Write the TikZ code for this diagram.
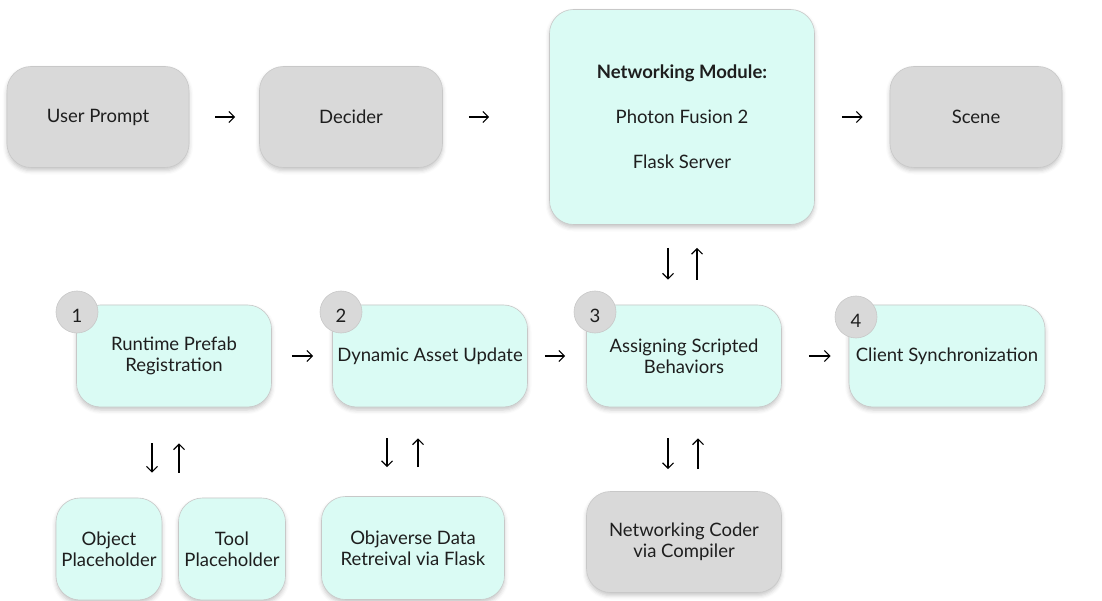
\documentclass[tikz,border=0pt]{standalone}
\usepackage{fontspec}
\setmainfont{Lato}
\usetikzlibrary{arrows.meta,shadows.blur}

\definecolor{boxgray}{RGB}{217,217,217}
\definecolor{boxcyan}{RGB}{218,251,244}
\definecolor{edgegray}{RGB}{200,200,200}
\definecolor{textgray}{RGB}{30,30,30}

\tikzset{
  block/.style={rounded corners=24pt, draw=edgegray, line width=0.6pt,
    align=center, text=textgray, inner sep=0pt,
    font=\fontsize{18.5}{21}\selectfont,
    blur shadow={shadow xshift=0pt, shadow yshift=-3pt,
      shadow opacity=22, shadow blur radius=4pt}},
  graybox/.style={block, fill=boxgray},
  cyanbox/.style={block, fill=boxcyan},
  badge/.style={circle, fill=boxgray, draw=edgegray, line width=0.6pt,
    minimum size=42pt, inner sep=0pt},
  badgenum/.style={text=textgray, font=\fontsize{18.5}{21}\selectfont},
  flow/.style={-{Straight Barb[length=5.5pt,width=11pt]}, line width=1.2pt},
}

\begin{document}
\begin{tikzpicture}[x=1pt,y=-1pt]
\useasboundingbox (0,0) rectangle (1102,601);

% top row
\node[graybox, minimum width=182, minimum height=101] (prompt) at (98,117) {User Prompt};
\node[graybox, minimum width=183, minimum height=101] (decider) at (351,117) {Decider};
\node[cyanbox, minimum width=265, minimum height=215] (netmod) at (682,117)
  {\textbf{Networking Module:}\\[24pt]Photon Fusion 2\\[24pt]Flask Server};
\node[graybox, minimum width=172, minimum height=101] (scene) at (976,117) {Scene};

% middle row
\node[cyanbox, minimum width=195, minimum height=102] (prefab) at (174,356) {Runtime Prefab\\Registration};
\node[cyanbox, minimum width=195, minimum height=102] (asset) at (430,356) {Dynamic Asset Update};
\node[cyanbox, minimum width=195, minimum height=102] (script) at (684,356) {Assigning Scripted\\Behaviors};
\node[cyanbox, minimum width=196, minimum height=102] (sync) at (947,356) {Client Synchronization};

% bottom row
\node[cyanbox, minimum width=106, minimum height=102] (objph) at (109,549) {Object\\Placeholder};
\node[cyanbox, minimum width=107, minimum height=102] (toolph) at (232,549) {Tool\\Placeholder};
\node[cyanbox, minimum width=183, minimum height=103] (objaverse) at (413,548) {Objaverse Data\\Retreival via Flask};
\node[graybox, minimum width=195, minimum height=101] (coder) at (684,542) {Networking Coder\\via Compiler};

% step badges
\foreach \n/\x/\y in {1/77/312, 2/341/312, 3/595/312, 4/856/317}
{
  \node[badge] (badge\n) at (\x,\y) {};
  \node[badgenum] at ([yshift=-4pt]badge\n.center) {\n};
}

% horizontal arrows
\draw[flow, shorten <=26pt, shorten >=24pt] (prompt.east) -- (decider.west);
\draw[flow, shorten <=26pt, shorten >=60pt] (decider.east) -- (netmod.west);
\draw[flow, shorten <=27pt, shorten >=27pt] (netmod.east) -- (scene.west);
\draw[flow, shorten <=20pt, shorten >=19pt] (prefab.east) -- (asset.west);
\draw[flow, shorten <=17pt, shorten >=21pt] (asset.east) -- (script.west);
\draw[flow, shorten <=27pt, shorten >=18pt] (script.east) -- (sync.west);

% vertical arrow pairs
\draw[flow, shorten <=23pt, shorten >=25pt]
  ([xshift=-14pt]netmod.south) -- ([xshift=-14pt]netmod.south |- script.north);
\draw[flow, shorten <=25pt, shorten >=23pt]
  ([xshift=15pt]netmod.south |- script.north) -- ([xshift=15pt]netmod.south);
\draw[flow, shorten <=36pt, shorten >=25pt]
  ([xshift=-22pt]prefab.south) -- ([xshift=-22pt]prefab.south |- objph.north);
\draw[flow, shorten <=25pt, shorten >=36pt]
  ([xshift=5pt]prefab.south |- toolph.north) -- ([xshift=5pt]prefab.south);
\draw[flow, shorten <=31pt, shorten >=29pt]
  ([xshift=-43pt]asset.south) -- ([xshift=-43pt]asset.south |- objaverse.north);
\draw[flow, shorten <=29pt, shorten >=31pt]
  ([xshift=-12pt]asset.south |- objaverse.north) -- ([xshift=-12pt]asset.south);
\draw[flow, shorten <=31pt, shorten >=22pt]
  ([xshift=-16pt]script.south) -- ([xshift=-16pt]script.south |- coder.north);
\draw[flow, shorten <=22pt, shorten >=31pt]
  ([xshift=14pt]script.south |- coder.north) -- ([xshift=14pt]script.south);
\end{tikzpicture}
\end{document}
